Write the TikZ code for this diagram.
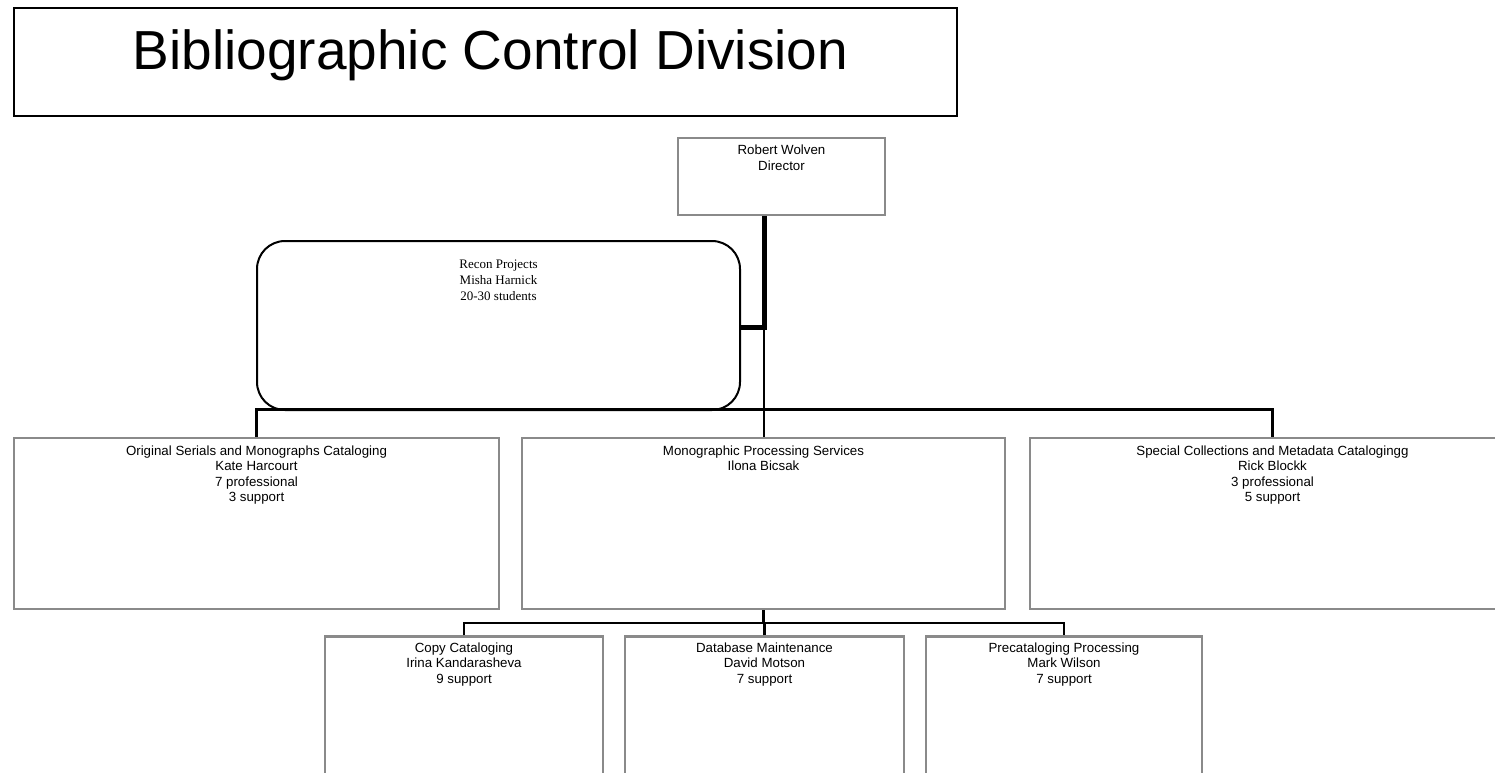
\documentclass[tikz,border=0pt]{standalone}
\usepackage{fontspec}
\setmainfont{Liberation Sans}
\newfontfamily\reconserif{Liberation Serif}
\definecolor{boxgray}{HTML}{8A8A8A}
\tikzset{
  orgbox/.style={draw=boxgray, line width=1.25pt, rectangle, inner sep=0pt},
  titlebox/.style={draw=black, line width=1.25pt, rectangle, inner sep=0pt},
  reconbox/.style={draw=black, line width=1pt, rectangle, rounded corners=14pt, inner sep=0pt},
  lbl/.style={anchor=north, align=center, inner sep=0pt, font=\fontsize{6.65pt}{7.7pt}\selectfont},
  rlbl/.style={anchor=north, align=center, inner sep=0pt, font=\reconserif\fontsize{6.5pt}{8pt}\selectfont},
  link/.style={line width=1.2pt, black},
  thicklink/.style={line width=2.5pt, black},
}
\begin{document}
\begin{tikzpicture}[x=0.5pt,y=-0.5pt]
\useasboundingbox (0,0) rectangle (1495,772);
\clip (0,0) rectangle (1495,772);

\node[titlebox, minimum width=471.5pt, minimum height=54pt,
  label={[anchor=base, xshift=2.5pt, yshift=-31.5pt, inner sep=0pt, font=\fontsize{27.5pt}{31pt}\selectfont]north:Bibliographic Control Division}]
  (title) at (485.5,62) {};

\node[orgbox, minimum width=103.5pt, minimum height=38.5pt,
  label={[lbl, yshift=-4pt]north:{Robert Wolven\\Director}}]
  (dir) at (781.5,176.5) {};

\node[reconbox, minimum width=241.5pt, minimum height=84.5pt,
  label={[rlbl, yshift=-9.5pt]north:{Recon Projects\\Misha Harnick\\20-30 students}}]
  (recon) at (498.5,325.5) {};

\node[orgbox, minimum width=242.5pt, minimum height=85.5pt,
  label={[lbl, yshift=-4.25pt]north:{Original Serials and Monographs Cataloging\\Kate Harcourt\\7 professional\\3 support}}]
  (A) at (256.5,523.5) {};
\node[orgbox, minimum width=241.5pt, minimum height=85.5pt,
  label={[lbl, yshift=-4.25pt]north:{Monographic Processing Services\\Ilona Bicsak}}]
  (B) at (763.5,523.5) {};
\node[orgbox, minimum width=242.5pt, minimum height=85.5pt,
  label={[lbl, yshift=-4.25pt]north:{Special Collections and Metadata Catalogingg\\Rick Blockk\\3 professional\\5 support}}]
  (C) at (1272.5,523.5) {};

\node[orgbox, minimum width=139pt, minimum height=90pt,
  label={[lbl, yshift=-3.5pt]north:{Copy Cataloging\\Irina Kandarasheva\\9 support}}]
  (D) at (464,726.5) {};
\node[orgbox, minimum width=139.5pt, minimum height=90pt,
  label={[lbl, yshift=-3.5pt]north:{Database Maintenance\\David Motson\\7 support}}]
  (E) at (764.5,726.5) {};
\node[orgbox, minimum width=138pt, minimum height=90pt,
  label={[lbl, yshift=-3.5pt]north:{Precataloging Processing\\Mark Wilson\\7 support}}]
  (F) at (1064,726.5) {};

\coordinate (j1) at (764,327);
\coordinate (bus) at (764,409.5);
\coordinate (bus2) at (764,623);

\draw[thicklink] (dir.south -| j1) -- (j1) -- (recon.east |- j1);
\draw[link] (j1) -- (j1 |- B.north);
\draw[link] (A.north) -- (A.north |- bus) -- (C.north |- bus) -- (C.north);
\draw[link] (B.south) -- (B.south |- bus2);
\draw[link] (D.north) -- (D.north |- bus2) -- (F.north |- bus2) -- (F.north);
\draw[link] (E.north) -- (E.north |- bus2);
\end{tikzpicture}
\end{document}
